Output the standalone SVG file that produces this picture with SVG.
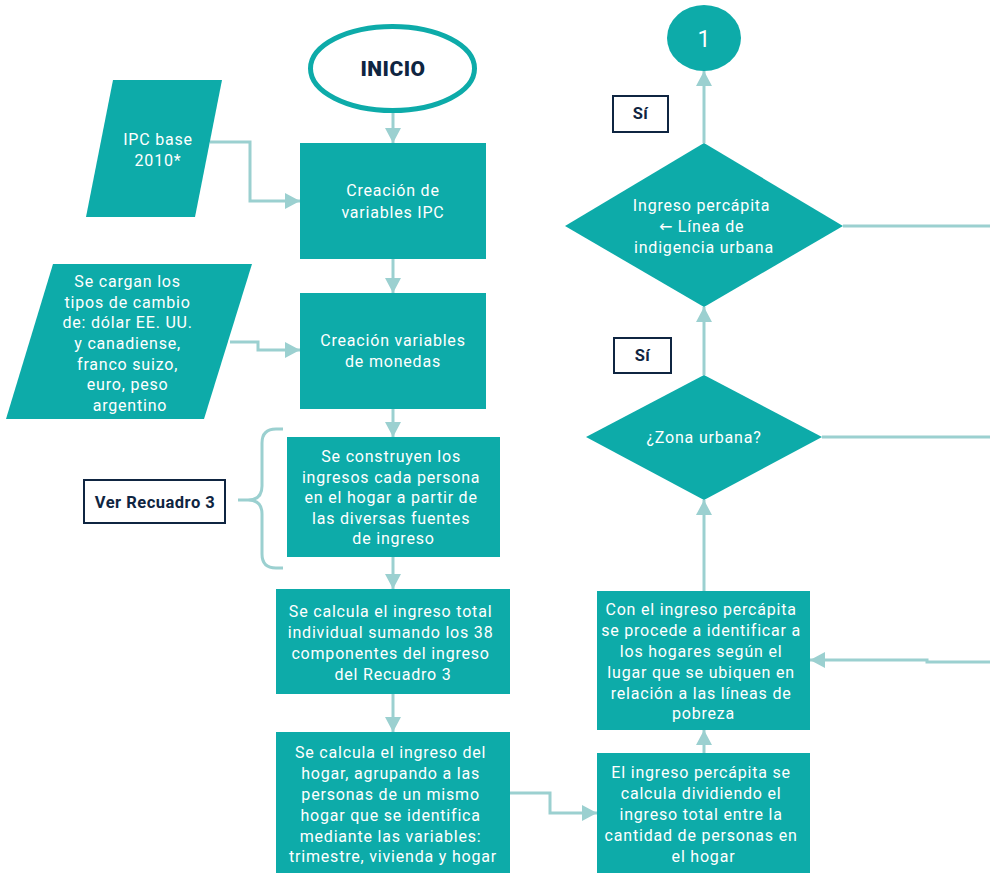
<svg xmlns="http://www.w3.org/2000/svg" width="990" height="873" viewBox="0 0 990 873">
  <style>
    .box { fill: #0DABA9; }
    .txt { font-family: Roboto, "DejaVu Sans", sans-serif; font-size: 16px; letter-spacing: 0.8px; fill: #FFFFFF; text-anchor: middle; }
    .lbl { font-family: Roboto, "DejaVu Sans", sans-serif; font-weight: bold; font-size: 16.5px; letter-spacing: 0.5px; fill: #0F2541; text-anchor: middle; }
    .lblbox { fill: #FFFFFF; stroke: #0F2541; stroke-width: 2; }
    .conn { fill: none; stroke: #9BD0D0; stroke-width: 3; }
    .arr { marker-end: url(#head); }
  </style>
  <defs>
    <marker id="head" markerUnits="userSpaceOnUse" markerWidth="16" markerHeight="16" refX="15" refY="8" orient="auto">
      <path d="M0,0 L15,8 L0,16 z" fill="#9BD0D0"/>
    </marker>
  </defs>
  <rect width="990" height="873" fill="#FFFFFF"/>

  <!-- connectors -->
  <g id="connectors">
    <line class="conn arr" x1="393" y1="113" x2="393" y2="143"/>
    <line class="conn arr" x1="393" y1="259" x2="393" y2="293"/>
    <line class="conn arr" x1="393" y1="409" x2="393" y2="437"/>
    <line class="conn arr" x1="393" y1="557" x2="393" y2="589"/>
    <line class="conn arr" x1="393" y1="694" x2="393" y2="732"/>
    <polyline class="conn arr" points="210,142 250,142 250,201 300,201"/>
    <polyline class="conn arr" points="230,342 258,342 258,350 300,350"/>
    <polyline class="conn arr" points="510,793 550,793 550,813 597,813"/>
    <line class="conn arr" x1="704" y1="753" x2="704" y2="730"/>
    <polyline class="conn arr" points="990,662 927,662 927,660 810,660"/>
    <line class="conn arr" x1="704" y1="591" x2="704" y2="500"/>
    <line class="conn" x1="822" y1="437" x2="990" y2="437"/>
    <line class="conn arr" x1="704" y1="375" x2="704" y2="307"/>
    <line class="conn" x1="843" y1="226" x2="990" y2="226"/>
    <line class="conn arr" x1="704" y1="143" x2="704" y2="71"/>
    <!-- brace grouping the income-construction step -->
    <path class="conn" d="M283,429 H276 Q262,429 262,443 V486 Q262,500 248,500 H238 M248,500 Q262,500 262,514 V554 Q262,568 276,568 H283"/>
  </g>

  <g id="inicio">
    <ellipse cx="392.5" cy="68.5" rx="82" ry="42" fill="#FFFFFF" stroke="#0DABA9" stroke-width="5"/>
    <text x="393" y="76" font-family="Roboto, 'DejaVu Sans', sans-serif" font-weight="900" font-size="21" letter-spacing="0.5" fill="#0F2541" text-anchor="middle">INICIO</text>
  </g>

  <g id="ipc-base">
    <polygon class="box" points="113,80 222,80 195,217 86,217"/>
    <text class="txt"><tspan x="158" y="145">IPC base</tspan><tspan x="158" y="166">2010*</tspan></text>
  </g>

  <g id="tipos-cambio">
    <polygon class="box" points="53,264 252,264 204,419 6,419"/>
    <text class="txt">
      <tspan x="130" y="287">Se cargan los</tspan>
      <tspan x="130" y="307.5">tipos de cambio</tspan>
      <tspan x="130" y="328">de: dólar EE. UU.</tspan>
      <tspan x="130" y="349">y canadiense,</tspan>
      <tspan x="130" y="369.5">franco suizo,</tspan>
      <tspan x="130" y="390">euro, peso</tspan>
      <tspan x="130" y="411">argentino</tspan>
    </text>
  </g>

  <g id="variables-ipc">
    <rect class="box" x="300" y="143" width="186" height="116"/>
    <text class="txt"><tspan x="393" y="196">Creación de</tspan><tspan x="393" y="218">variables IPC</tspan></text>
  </g>

  <g id="variables-monedas">
    <rect class="box" x="300" y="293" width="186" height="116"/>
    <text class="txt"><tspan x="393" y="346">Creación variables</tspan><tspan x="393" y="367">de monedas</tspan></text>
  </g>

  <g id="ver-recuadro">
    <rect class="lblbox" x="84" y="480" width="141" height="43"/>
    <text class="lbl" x="155" y="507.5">Ver Recuadro 3</text>
  </g>

  <g id="ingresos-persona">
    <rect class="box" x="287" y="437" width="213" height="120"/>
    <text class="txt">
      <tspan x="393.5" y="462">Se construyen los</tspan>
      <tspan x="393.5" y="482.5">ingresos cada persona</tspan>
      <tspan x="393.5" y="503">en el hogar a partir de</tspan>
      <tspan x="393.5" y="523.5">las diversas fuentes</tspan>
      <tspan x="393.5" y="544">de ingreso</tspan>
    </text>
  </g>

  <g id="ingreso-individual">
    <rect class="box" x="276" y="589" width="234" height="105"/>
    <text class="txt">
      <tspan x="393" y="617">Se calcula el ingreso total</tspan>
      <tspan x="393" y="638">individual sumando los 38</tspan>
      <tspan x="393" y="659">componentes del ingreso</tspan>
      <tspan x="393" y="680">del Recuadro 3</tspan>
    </text>
  </g>

  <g id="ingreso-hogar">
    <rect class="box" x="276" y="732" width="234" height="141"/>
    <text class="txt">
      <tspan x="393" y="758">Se calcula el ingreso del</tspan>
      <tspan x="393" y="779">hogar, agrupando a las</tspan>
      <tspan x="393" y="800">personas de un mismo</tspan>
      <tspan x="393" y="821">hogar que se identifica</tspan>
      <tspan x="393" y="842">mediante las variables:</tspan>
      <tspan x="393" y="862">trimestre, vivienda y hogar</tspan>
    </text>
  </g>

  <g id="percapita">
    <rect class="box" x="597" y="753" width="213" height="120"/>
    <text class="txt">
      <tspan x="703.5" y="778">El ingreso percápita se</tspan>
      <tspan x="703.5" y="799">calcula dividiendo el</tspan>
      <tspan x="703.5" y="820">ingreso total entre la</tspan>
      <tspan x="703.5" y="841">cantidad de personas en</tspan>
      <tspan x="703.5" y="862">el hogar</tspan>
    </text>
  </g>

  <g id="identificar-hogares">
    <rect class="box" x="597" y="591" width="213" height="139"/>
    <text class="txt">
      <tspan x="703.5" y="615">Con el ingreso percápita</tspan>
      <tspan x="703.5" y="636">se procede a identificar a</tspan>
      <tspan x="703.5" y="657">los hogares según el</tspan>
      <tspan x="703.5" y="678">lugar que se ubiquen en</tspan>
      <tspan x="703.5" y="699">relación a las líneas de</tspan>
      <tspan x="703.5" y="719">pobreza</tspan>
    </text>
  </g>

  <g id="zona-urbana">
    <polygon class="box" points="704,375 822,437 704,500 586,437"/>
    <text class="txt" x="704" y="443">¿Zona urbana?</text>
  </g>

  <g id="si-zona">
    <rect class="lblbox" x="614" y="338" width="57" height="35"/>
    <text class="lbl" x="642.5" y="361">Sí</text>
  </g>

  <g id="linea-indigencia">
    <polygon class="box" points="704,143 843,226 704,307 565,226"/>
    <text class="txt">
      <tspan x="704" y="211">Ingreso percápita</tspan>
      <tspan x="704" y="232">← Línea de</tspan>
      <tspan x="704" y="253">indigencia urbana</tspan>
    </text>
  </g>

  <g id="si-indigencia">
    <rect class="lblbox" x="613" y="96" width="55" height="36"/>
    <text class="lbl" x="640.5" y="119">Sí</text>
  </g>

  <g id="conector-1">
    <ellipse class="box" cx="704" cy="38" rx="37" ry="33"/>
    <text x="704" y="47" font-family="Roboto, 'DejaVu Sans', sans-serif" font-size="23" fill="#FFFFFF" text-anchor="middle">1</text>
  </g>
</svg>
